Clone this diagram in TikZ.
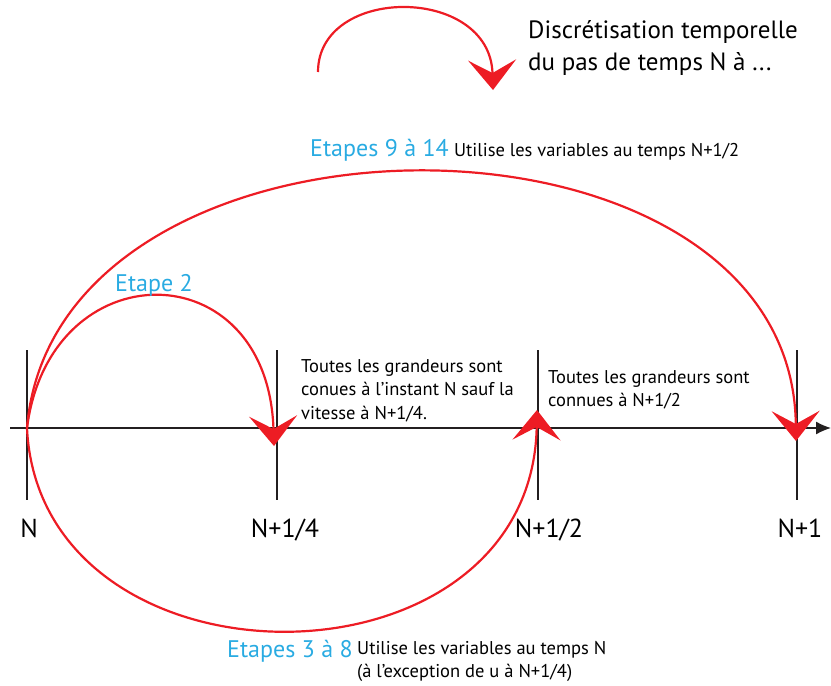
\documentclass[tikz,border=0pt]{standalone}
\usepackage{fontspec}
\setmainfont{PT Sans}
\usepackage{xcolor}
\usetikzlibrary{arrows.meta}
\definecolor{arcred}{RGB}{237,28,36}
\definecolor{stepblue}{RGB}{41,171,226}
\definecolor{axisgray}{RGB}{35,31,32}

\begin{document}
\begin{tikzpicture}[x=1pt,y=-1pt,
  arc/.style={draw=arcred,line width=2.2pt,-{Stealth[length=30pt,width=48pt,inset=13pt]}},
  axistick/.style={draw=axisgray,line width=1.3pt},
  big/.style={font=\fontsize{24}{30}\selectfont,inner sep=0pt},
  ticklabel/.style={font=\fontsize{26}{30}\selectfont,inner sep=0pt},
  small/.style={font=\fontsize{18.5}{23.5}\selectfont,inner sep=0pt},
  steplabel/.style={big,text=stepblue}]
\useasboundingbox (0,0) rectangle (831,686);
% axe des temps
\coordinate (a0) at (10,428);
\coordinate (a1) at (831,428);
\draw [axistick,-{Latex[length=15pt,width=13pt]}](a0)--(a1);
\coordinate (t0) at (27,428);
\draw [axistick](27,350)--(27,500);
\draw [axistick](277,350)--(277,500);
\draw [axistick](538,350)--(538,500);
\draw [axistick](797,350)--(797,500);
\node[ticklabel,anchor=base] (N) at (29,537) {N};
\node[ticklabel,anchor=base] (Nq) at (285,537) {N+1/4};
\node[ticklabel,anchor=base] (Nh) at (549,537) {N+1/2};
\node[ticklabel,anchor=base] (N1) at (800,537) {N+1};
% legende
\coordinate (ls) at (318,72);
\coordinate (le) at (493,90);
\draw [arc](ls) .. controls (318,-15) and (490,-15) .. (le);
\node[big,font=\fontsize{25}{32}\selectfont,align=left,anchor=north west] (title) at (528,20) {Discrétisation temporelle\\du pas de temps N à ...};
% etapes
\coordinate (q) at (274,446);
\coordinate (h) at (537,410);
\coordinate (o) at (796,441);
\draw [arc](t0) .. controls (50,250) and (268,250) .. (q);
\draw [arc](t0) .. controls (55,85) and (792,85) .. (o);
\draw [arc](t0) .. controls (40,700) and (532,700) .. (h);
\node[steplabel,anchor=base west] (e2) at (115,291) {Etape 2};
\node[steplabel,anchor=base west] (e914) at (310,156) {Etapes 9 à 14};
\node[small,anchor=base west] (u914) at ([xshift=5pt]e914.base east) {Utilise les variables au temps N+1/2};
\node[steplabel,anchor=base west] (e38) at (227,657) {Etapes 3 à 8};
\node[small,align=left,anchor=north west] (u38) at (357,641) {Utilise les variables au temps N\\(à l’exception de u à N+1/4)};
\node[small,align=left,anchor=north west] (txtq) at (301,359) {Toutes les grandeurs sont\\conues à l’instant N sauf la\\vitesse à N+1/4.};
\node[small,align=left,anchor=north west] (txth) at (548,370) {Toutes les grandeurs sont\\connues à N+1/2};
\end{tikzpicture}
\end{document}
